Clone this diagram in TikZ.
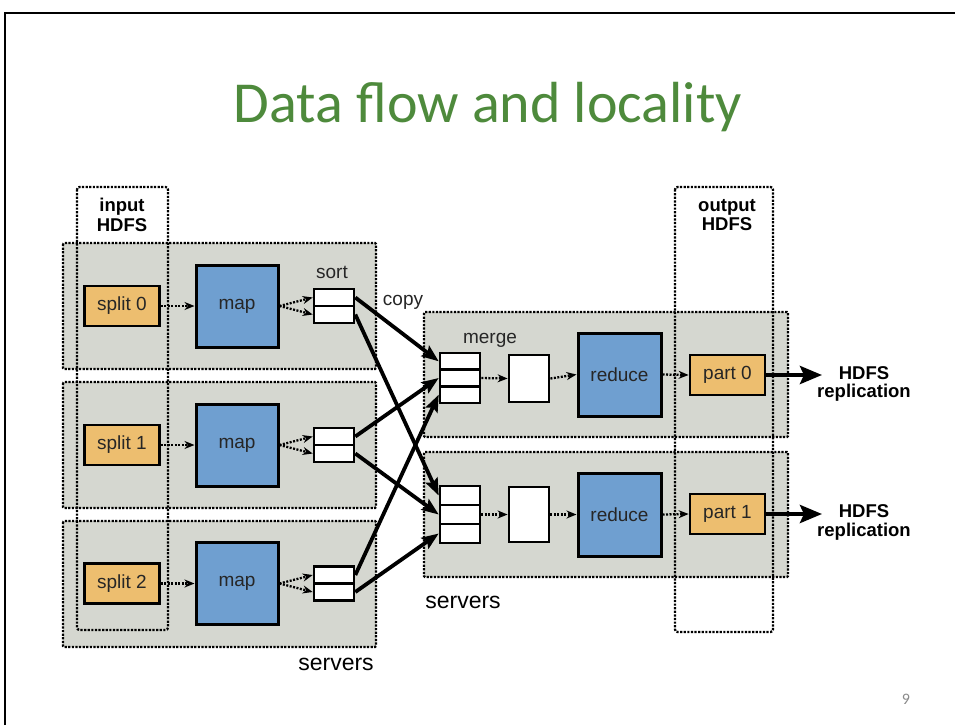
\documentclass[tikz,border=0pt]{standalone}
\usepackage{fontspec}
\setmainfont{Liberation Sans}
\newfontfamily\titlefont{Carlito}
\usetikzlibrary{arrows.meta}
\definecolor{srvgray}{HTML}{D5D7D0}
\definecolor{taskblue}{HTML}{6F9FD0}
\definecolor{dataorange}{HTML}{EDBE6F}
\definecolor{titlegreen}{HTML}{4E8A3C}
\definecolor{labelink}{HTML}{262626}
\definecolor{pagegray}{HTML}{8A8A8A}

\begin{document}
\begin{tikzpicture}[x=1pt,y=-1pt,
  server/.style={draw, fill=srvgray, line width=2.3pt, dash pattern=on 2.2pt off 1.4pt, rounded corners=1pt},
  hdfsbox/.style={draw, line width=2.3pt, dash pattern=on 2.2pt off 1.4pt, rounded corners=2.5pt},
  lbl/.style={font=\fontsize{19}{21}\selectfont, text=labelink, inner sep=0pt},
  boldlbl/.style={font=\fontsize{18.5}{19.5}\selectfont\bfseries, align=center, inner sep=0pt},
  databox/.style={draw, line width=2.8pt, fill=dataorange, minimum width=75pt, minimum height=40pt, inner sep=0pt, lbl},
  taskbox/.style={draw, line width=3pt, fill=taskblue, minimum width=82pt, minimum height=82pt, inner sep=0pt, lbl},
  cell/.style={draw, line width=2.6pt, fill=white, minimum width=40pt, inner sep=0pt},
  flow/.style={line width=2.3pt, dash pattern=on 2pt off 1.5pt, -{Stealth[length=10pt,width=8pt]}},
  copyarrow/.style={line width=3.8pt, -{Stealth[length=17pt,width=13pt,inset=3pt]}},
  replarrow/.style={line width=4.2pt, -{Stealth[length=22pt,width=18pt,inset=4pt]}}]

\useasboundingbox (0,0) rectangle (955,725);

% slide frame
\draw[line width=2.6pt] (5,725) -- (5,13) -- (955,13);

% title and page number
\node[anchor=base, text=titlegreen, font=\titlefont\fontsize{58}{60}\selectfont, inner sep=0pt] (title) at (488,122) {Data flow and locality};
\node[text=pagegray, font=\titlefont\fontsize{16}{18}\selectfont, inner sep=0pt] (pagenum) at (906,699) {9};

% server groups
\draw[server] (63,243) rectangle (376,369);
\draw[server] (63,382) rectangle (376,508);
\draw[server] (63,521) rectangle (376,647);
\draw[server] (424,312) rectangle (788,437);
\draw[server] (424,452) rectangle (788,577);

% HDFS columns
\draw[hdfsbox] (77,187) rectangle (168,630);
\draw[hdfsbox] (675,187) rectangle (773,632);
\node[boldlbl] (inhdfs) at (122,215) {input\\HDFS};
\node[boldlbl] (outhdfs) at (727,215) {output\\HDFS};

% map side: split -> map -> two sorted spill cells
\foreach \i/\y in {0/306,1/445,2/583.5}{
  \node[databox] (sp\i) at (122,\y) {split \i};
  \node[taskbox] (mp\i) at (237,\y) {map};
  \node[cell, minimum height=17pt] (so\i a) at (334,\y-8.5) {};
  \node[cell, minimum height=17pt] (so\i b) at (334,\y+8.5) {};
  \draw[flow] (sp\i.east) -- (mp\i.west);
  \draw[flow] (mp\i.east) -- (so\i a.west);
  \draw[flow] (mp\i.east) -- (so\i b.west);
}
\node[lbl] (sortlbl) at (332,272) {sort};
\node[lbl] (copylbl) at (403,302) {copy};

% reduce side: three-cell merge buffers
\node[cell, minimum height=16.7pt] (mg0a) at (460,361.3) {};
\node[cell, minimum height=16.7pt] (mg0b) at (460,378) {};
\node[cell, minimum height=16.7pt] (mg0c) at (460,394.7) {};
\node[cell, minimum height=19pt] (mg1a) at (460,495.5) {};
\node[cell, minimum height=19pt] (mg1b) at (460,514.5) {};
\node[cell, minimum height=19pt] (mg1c) at (460,533.5) {};
\node[lbl] (mergelbl) at (490,340) {merge};

\node[cell, line width=2.8pt, minimum height=47pt] (wb0) at (529,378.5) {};
\node[cell, line width=2.8pt, minimum height=55pt] (wb1) at (529,514.5) {};

\node[taskbox, minimum width=83pt, minimum height=83pt] (rd0) at (619.5,374.5) {reduce};
\node[taskbox, minimum width=83pt, minimum height=83pt] (rd1) at (619.5,514.5) {reduce};

\node[databox] (pt0) at (727.5,375) {part 0};
\node[databox] (pt1) at (727.5,514) {part 1};

\foreach \i in {0,1}{
  \draw[flow] (mg\i b.east) -- (wb\i.west);
  \draw[flow] (wb\i.east) -- (rd\i.west);
  \draw[flow] (rd\i.east) -- (pt\i.west);
}

% shuffle: every map output feeds every reducer
\draw[copyarrow] (so0a.east) -- (mg0a.west);
\draw[copyarrow] (so0b.east) -- (mg1a.west);
\draw[copyarrow] (so1a.east) -- (mg0b.west);
\draw[copyarrow] (so1b.east) -- (mg1b.west);
\draw[copyarrow] (so2a.east) -- (mg0c.west);
\draw[copyarrow] (so2b.east) -- (mg1c.west);

% output replication
\coordinate (tip0) at (822,375);
\coordinate (tip1) at (822,514);
\draw[replarrow] (pt0.east) -- (tip0);
\draw[replarrow] (pt1.east) -- (tip1);
\node[boldlbl, font=\fontsize{18.5}{18.5}\selectfont\bfseries] (repl0) at (864,384) {HDFS\\replication};
\node[boldlbl, font=\fontsize{18.5}{18.5}\selectfont\bfseries] (repl1) at (864,522.5) {HDFS\\replication};

% server captions
\node[lbl, font=\fontsize{23}{25}\selectfont, text=black] (srvR) at (463,602) {servers};
\node[lbl, font=\fontsize{23}{25}\selectfont, text=black] (srvL) at (336,664) {servers};

\end{tikzpicture}
\end{document}
